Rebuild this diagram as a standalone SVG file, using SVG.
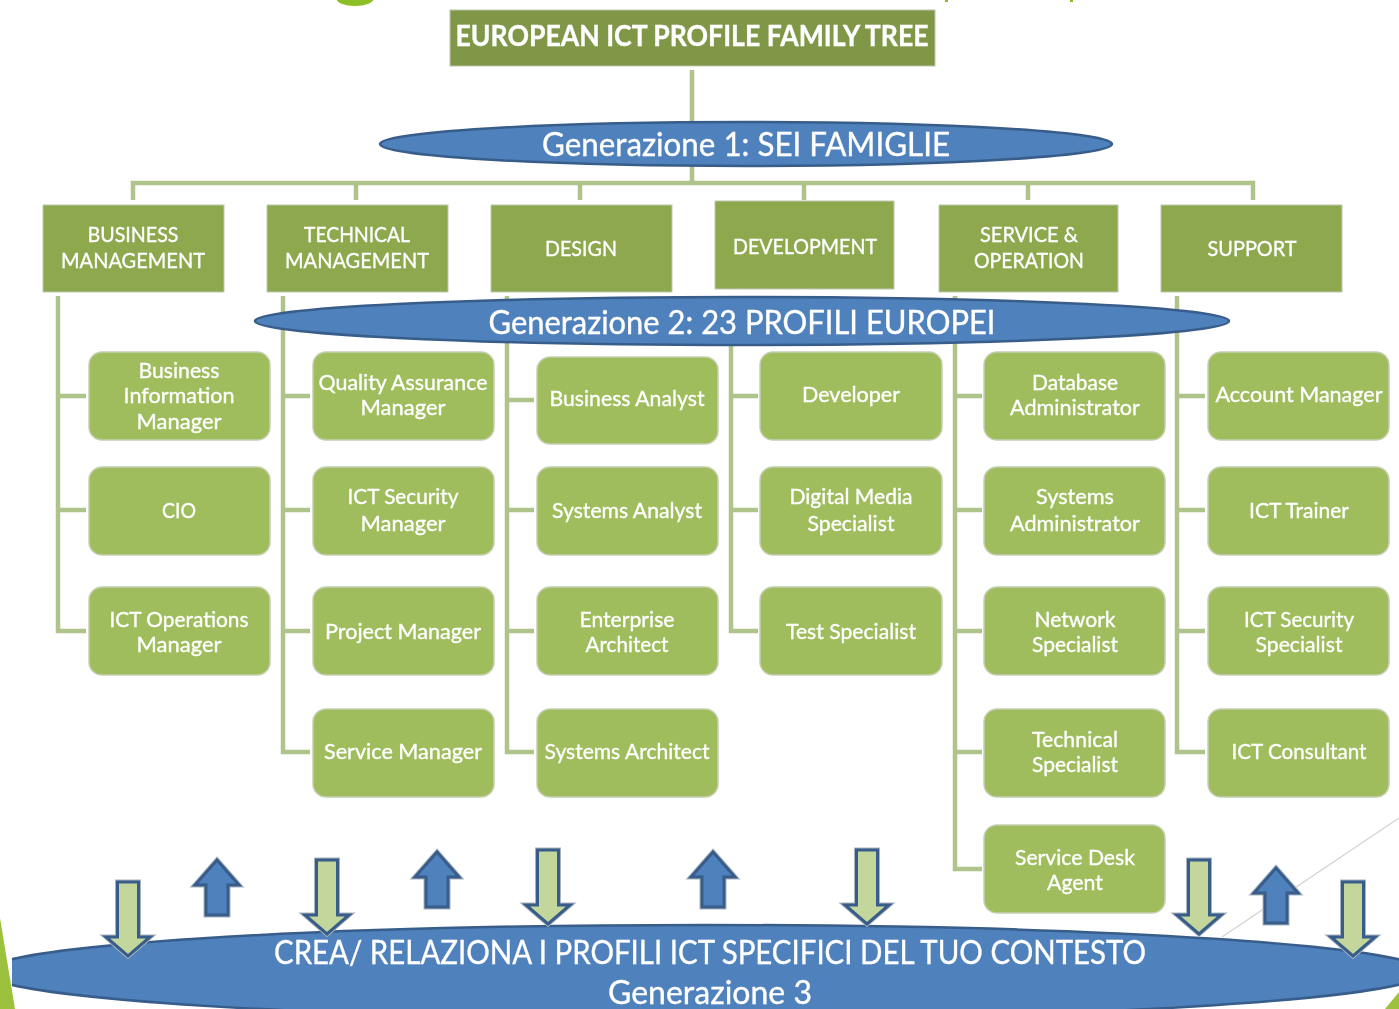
<svg xmlns="http://www.w3.org/2000/svg" width="1399" height="1009" viewBox="0 0 1399 1009">
<style>
text{font-family:Lato,"Liberation Sans",sans-serif;fill:#fff;text-anchor:middle;stroke:#fff;stroke-width:.35}
.t{font-size:22px}
.f{font-size:22px}
.h{font-size:29px;font-weight:700}
.g{font-size:32px}
.n{fill:#9fbd5c;stroke:#c5cfb2;stroke-width:1.5}
.fam{fill:#8ea84e;stroke:#c0c6b2;stroke-width:1}
.el{fill:#4f81bd;stroke:#385d8a;stroke-width:2.5}
.c{fill:none;stroke:#aec48a;stroke-width:4.5}
.dn{fill:#c3d69b;stroke:#385d8a;stroke-width:3}
.up{fill:#4f81bd;stroke:#385d8a;stroke-width:3}
.halo{fill:none;stroke:#aab4c0;stroke-width:5}
</style>
<defs>
<clipPath id="bc"><rect x="12" y="900" width="1387" height="109"/></clipPath>
<filter id="soft" x="0" y="0" width="100%" height="100%"><feGaussianBlur stdDeviation="0.45"/></filter>
<polygon id="d" points="-10.500,1 10.500,1 10.500,56 22,56 0,75 -22,56 -10.500,56"/>
<polygon id="u" points="0,2 22,27 11,27 11,57 -11,57 -11,27 -22,27"/>
</defs>
<rect width="1399" height="1009" fill="#fff"/>
<g filter="url(#soft)">
<g id="decor">
<polygon points="0,918 15,1009 0,1009" fill="#9bc13c"/>
<polygon points="1385,1009 1399,992 1399,1009" fill="#9bc13c"/>
<line x1="1222" y1="937" x2="1399" y2="818" stroke="#d2d2d2" stroke-width="1.2"/>
<ellipse cx="355" cy="-2" rx="19" ry="8" fill="#8cbf26"/>
<rect x="945" y="0" width="3" height="2" fill="#8cbf26"/>
<rect x="1070" y="0" width="3" height="2" fill="#8cbf26"/>
</g>
<g id="connectors">
<path class="c" d="M692 70V126M692 166V183M133 200V183H1253V200M356 183V200M580 183V200M804 183V200M1028 183V200"/>
<path class="c" d="M58 296V631H86M58 396H86M58 510H86"/>
<path class="c" d="M283 296V752H310M283 396H310M283 510H310M283 631H310"/>
<path class="c" d="M507 296V752H534M507 400H534M507 510H534M507 631H534"/>
<path class="c" d="M731 296V631H758M731 396H758M731 510H758"/>
<path class="c" d="M955 296V869H982M955 396H982M955 510H982M955 631H982M955 752H982"/>
<path class="c" d="M1177 296V752H1205M1177 396H1205M1177 510H1205M1177 631H1205"/>
</g>
<g id="root"><rect x="450" y="10" width="485" height="56" fill="#7f9747" stroke="#c0c6b2"/><text class="h" x="692" y="46" textLength="473" lengthAdjust="spacingAndGlyphs">EUROPEAN ICT PROFILE FAMILY TREE</text></g>
<g id="gen1"><ellipse class="el" cx="746" cy="144" rx="366" ry="22"/><text class="g" x="746" y="156" textLength="408" lengthAdjust="spacingAndGlyphs">Generazione 1: SEI FAMIGLIE</text></g>
<g id="fam-business"><rect class="fam" x="43" y="205" width="181" height="87"/><text class="f" x="133" y="242" textLength="91" lengthAdjust="spacingAndGlyphs">BUSINESS</text><text class="f" x="133" y="268" textLength="144" lengthAdjust="spacingAndGlyphs">MANAGEMENT</text></g>
<g id="fam-technical"><rect class="fam" x="267" y="205" width="181" height="87"/><text class="f" x="357" y="242" textLength="106" lengthAdjust="spacingAndGlyphs">TECHNICAL</text><text class="f" x="357" y="268" textLength="144" lengthAdjust="spacingAndGlyphs">MANAGEMENT</text></g>
<g id="fam-design"><rect class="fam" x="491" y="205" width="181" height="87"/><text class="f" x="581" y="256" textLength="72" lengthAdjust="spacingAndGlyphs">DESIGN</text></g>
<g id="fam-development"><rect class="fam" x="715" y="201" width="179" height="88"/><text class="f" x="805" y="254" textLength="144" lengthAdjust="spacingAndGlyphs">DEVELOPMENT</text></g>
<g id="fam-service"><rect class="fam" x="939" y="205" width="179" height="87"/><text class="f" x="1029" y="242" textLength="98" lengthAdjust="spacingAndGlyphs">SERVICE &amp;</text><text class="f" x="1029" y="268" textLength="110" lengthAdjust="spacingAndGlyphs">OPERATION</text></g>
<g id="fam-support"><rect class="fam" x="1161" y="205" width="181" height="87"/><text class="f" x="1252" y="256" textLength="89" lengthAdjust="spacingAndGlyphs">SUPPORT</text></g>
<g id="gen2"><ellipse class="el" cx="742" cy="321" rx="487" ry="24"/><text class="g" x="742" y="334" textLength="507" lengthAdjust="spacingAndGlyphs">Generazione 2: 23 PROFILI EUROPEI</text></g>
<g id="n-bim"><rect class="n" x="89" y="352" width="181" height="88" rx="13"/><text class="t" x="179" y="378" textLength="81" lengthAdjust="spacingAndGlyphs">Business</text><text class="t" x="179" y="403" textLength="111" lengthAdjust="spacingAndGlyphs">Information</text><text class="t" x="179" y="429" textLength="85" lengthAdjust="spacingAndGlyphs">Manager</text></g>
<g id="n-cio"><rect class="n" x="89" y="467" width="181" height="88" rx="13"/><text class="t" x="179" y="518" textLength="34" lengthAdjust="spacingAndGlyphs">CIO</text></g>
<g id="n-icto"><rect class="n" x="89" y="587" width="181" height="88" rx="13"/><text class="t" x="179" y="627" textLength="139" lengthAdjust="spacingAndGlyphs">ICT Operations</text><text class="t" x="179" y="652" textLength="85" lengthAdjust="spacingAndGlyphs">Manager</text></g>
<g id="n-qam"><rect class="n" x="313" y="352" width="181" height="88" rx="13"/><text class="t" x="403" y="390" textLength="169" lengthAdjust="spacingAndGlyphs">Quality Assurance</text><text class="t" x="403" y="415" textLength="85" lengthAdjust="spacingAndGlyphs">Manager</text></g>
<g id="n-ictsm"><rect class="n" x="313" y="467" width="181" height="88" rx="13"/><text class="t" x="403" y="504" textLength="111" lengthAdjust="spacingAndGlyphs">ICT Security</text><text class="t" x="403" y="531" textLength="85" lengthAdjust="spacingAndGlyphs">Manager</text></g>
<g id="n-pm"><rect class="n" x="313" y="587" width="181" height="88" rx="13"/><text class="t" x="403" y="639" textLength="156" lengthAdjust="spacingAndGlyphs">Project Manager</text></g>
<g id="n-sm"><rect class="n" x="313" y="709" width="181" height="88" rx="13"/><text class="t" x="403" y="759" textLength="158" lengthAdjust="spacingAndGlyphs">Service Manager</text></g>
<g id="n-ba"><rect class="n" x="537" y="357" width="181" height="87" rx="13"/><text class="t" x="627" y="406" textLength="155" lengthAdjust="spacingAndGlyphs">Business Analyst</text></g>
<g id="n-sa"><rect class="n" x="537" y="467" width="181" height="88" rx="13"/><text class="t" x="627" y="518" textLength="150" lengthAdjust="spacingAndGlyphs">Systems Analyst</text></g>
<g id="n-ea"><rect class="n" x="537" y="587" width="181" height="88" rx="13"/><text class="t" x="627" y="626.5" textLength="95" lengthAdjust="spacingAndGlyphs">Enterprise</text><text class="t" x="627" y="651.5" textLength="83" lengthAdjust="spacingAndGlyphs">Architect</text></g>
<g id="n-sysa"><rect class="n" x="537" y="709" width="181" height="88" rx="13"/><text class="t" x="627" y="759" textLength="165" lengthAdjust="spacingAndGlyphs">Systems Architect</text></g>
<g id="n-dev"><rect class="n" x="760" y="352" width="182" height="88" rx="13"/><text class="t" x="851" y="402" textLength="98" lengthAdjust="spacingAndGlyphs">Developer</text></g>
<g id="n-dms"><rect class="n" x="760" y="467" width="182" height="88" rx="13"/><text class="t" x="851" y="504" textLength="123" lengthAdjust="spacingAndGlyphs">Digital Media</text><text class="t" x="851" y="531" textLength="87" lengthAdjust="spacingAndGlyphs">Specialist</text></g>
<g id="n-ts"><rect class="n" x="760" y="587" width="182" height="88" rx="13"/><text class="t" x="851" y="639" textLength="130" lengthAdjust="spacingAndGlyphs">Test Specialist</text></g>
<g id="n-dba"><rect class="n" x="984" y="352" width="181" height="88" rx="13"/><text class="t" x="1075" y="390" textLength="86" lengthAdjust="spacingAndGlyphs">Database</text><text class="t" x="1075" y="415" textLength="130" lengthAdjust="spacingAndGlyphs">Administrator</text></g>
<g id="n-sysadm"><rect class="n" x="984" y="467" width="181" height="88" rx="13"/><text class="t" x="1075" y="504" textLength="78" lengthAdjust="spacingAndGlyphs">Systems</text><text class="t" x="1075" y="531" textLength="130" lengthAdjust="spacingAndGlyphs">Administrator</text></g>
<g id="n-ns"><rect class="n" x="984" y="587" width="181" height="88" rx="13"/><text class="t" x="1075" y="626.5" textLength="81" lengthAdjust="spacingAndGlyphs">Network</text><text class="t" x="1075" y="651.5" textLength="86" lengthAdjust="spacingAndGlyphs">Specialist</text></g>
<g id="n-tech"><rect class="n" x="984" y="709" width="181" height="88" rx="13"/><text class="t" x="1075" y="747" textLength="86" lengthAdjust="spacingAndGlyphs">Technical</text><text class="t" x="1075" y="772" textLength="86" lengthAdjust="spacingAndGlyphs">Specialist</text></g>
<g id="n-sda"><rect class="n" x="984" y="825" width="181" height="88" rx="13"/><text class="t" x="1075" y="865" textLength="120" lengthAdjust="spacingAndGlyphs">Service Desk</text><text class="t" x="1075" y="890" textLength="56" lengthAdjust="spacingAndGlyphs">Agent</text></g>
<g id="n-am"><rect class="n" x="1208" y="352" width="181" height="88" rx="13"/><text class="t" x="1299" y="402" textLength="167" lengthAdjust="spacingAndGlyphs">Account Manager</text></g>
<g id="n-trainer"><rect class="n" x="1208" y="467" width="181" height="88" rx="13"/><text class="t" x="1299" y="518" textLength="100" lengthAdjust="spacingAndGlyphs">ICT Trainer</text></g>
<g id="n-icts"><rect class="n" x="1208" y="587" width="181" height="88" rx="13"/><text class="t" x="1299" y="626.5" textLength="110" lengthAdjust="spacingAndGlyphs">ICT Security</text><text class="t" x="1299" y="651.5" textLength="87" lengthAdjust="spacingAndGlyphs">Specialist</text></g>
<g id="n-cons"><rect class="n" x="1208" y="709" width="181" height="88" rx="13"/><text class="t" x="1299" y="759" textLength="135" lengthAdjust="spacingAndGlyphs">ICT Consultant</text></g>
<g id="gen3"><g clip-path="url(#bc)"><ellipse class="el" cx="705" cy="972" rx="720" ry="47"/></g><text class="g" x="710" y="964" style="font-size:33px" textLength="872" lengthAdjust="spacingAndGlyphs">CREA/ RELAZIONA I PROFILI ICT SPECIFICI DEL TUO CONTESTO</text><text class="g" x="710" y="1004" textLength="204" lengthAdjust="spacingAndGlyphs">Generazione 3</text></g>
<g id="arrows">
<use href="#d" class="halo" x="128" y="881"/><use href="#d" class="dn" x="128" y="881"/>
<use href="#u" class="halo" x="217" y="858"/><use href="#u" class="up" x="217" y="858"/>
<use href="#d" class="halo" x="327" y="859"/><use href="#d" class="dn" x="327" y="859"/>
<use href="#u" class="halo" x="437" y="850"/><use href="#u" class="up" x="437" y="850"/>
<use href="#d" class="halo" x="548" y="849"/><use href="#d" class="dn" x="548" y="849"/>
<use href="#u" class="halo" x="713" y="850"/><use href="#u" class="up" x="713" y="850"/>
<use href="#d" class="halo" x="867" y="849"/><use href="#d" class="dn" x="867" y="849"/>
<use href="#d" class="halo" x="1199" y="859"/><use href="#d" class="dn" x="1199" y="859"/>
<use href="#u" class="halo" x="1276" y="866"/><use href="#u" class="up" x="1276" y="866"/>
<use href="#d" class="halo" x="1353" y="881"/><use href="#d" class="dn" x="1353" y="881"/>
</g>
</g>
</svg>
